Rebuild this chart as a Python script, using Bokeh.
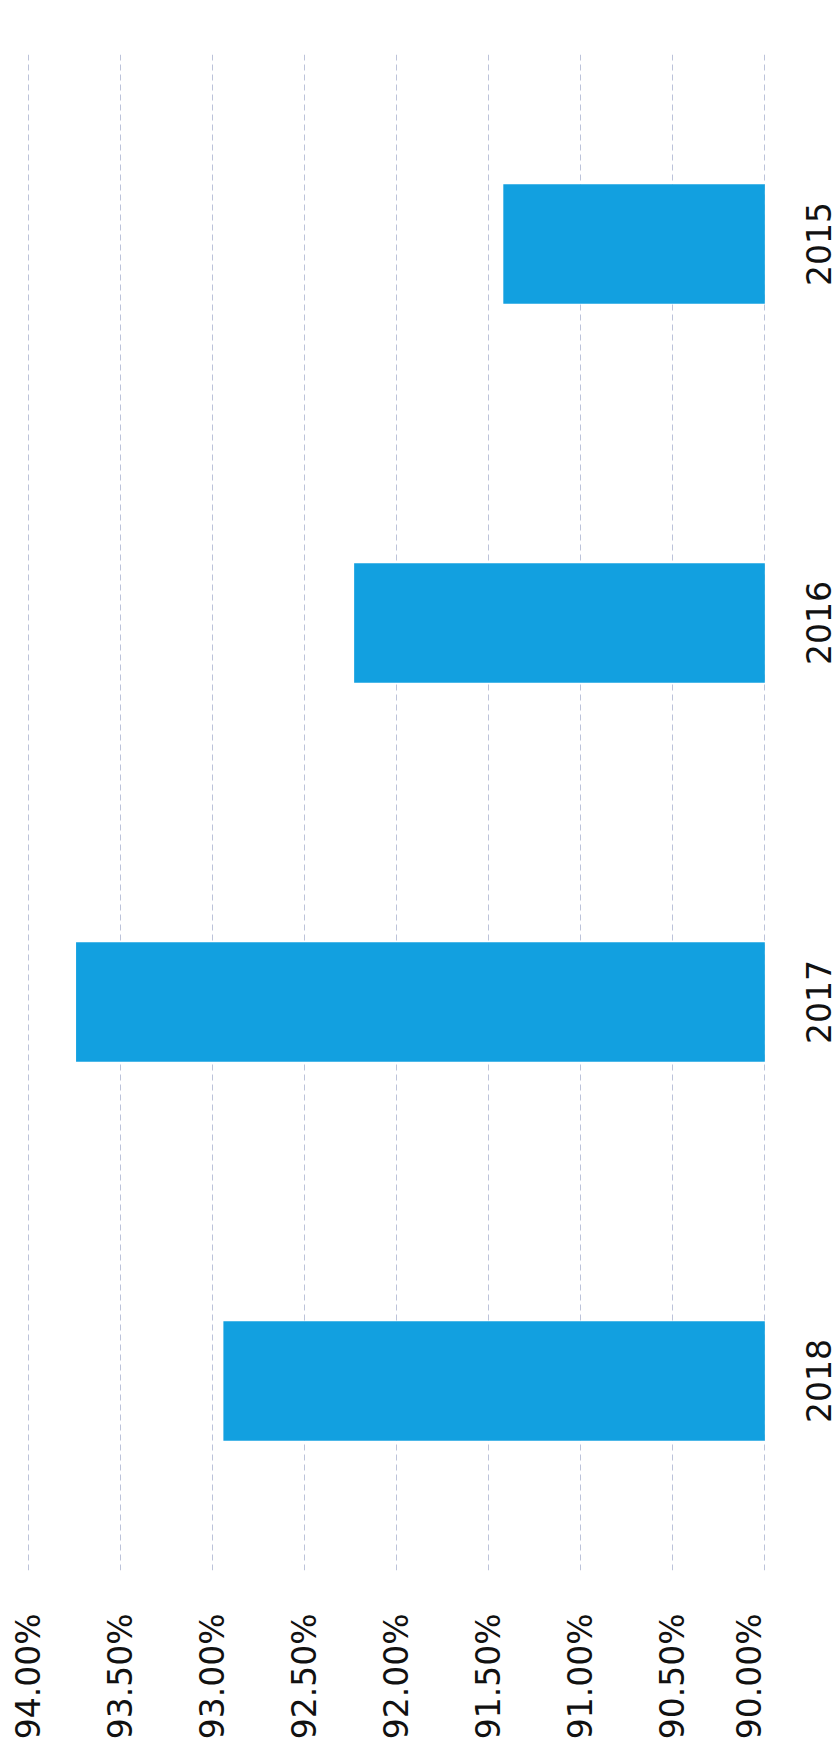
import math
from bokeh.plotting import figure
from bokeh.layouts import row
from bokeh.core.properties import value
from bokeh.models import ColumnDataSource, FactorRange, Range1d, FixedTicker, NumeralTickFormatter
from bokeh.embed import file_html
from bokeh.resources import INLINE

# Data
years = ["2018", "2017", "2016", "2015"]
rates = [0.9294, 0.9374, 0.9223, 0.9142]
ticks = [0.90, 0.905, 0.91, 0.915, 0.92, 0.925, 0.93, 0.935, 0.94]
baseline = 0.90

src = ColumnDataSource(data=dict(year=years, rate=rates))
yr = FactorRange(*years)

p = figure(
    width=768, height=1754,
    y_range=yr,
    x_range=Range1d(0.9402, 0.8998),
    output_backend="svg", toolbar_location=None,
    x_axis_location="below", y_axis_location=None,
    min_border_left=24, min_border_right=0, min_border_top=54, min_border_bottom=184,
)
p.outline_line_color = None
p.background_fill_color = "white"
p.border_fill_color = "white"

p.hbar(y="year", left=baseline, right="rate", height=0.315, source=src,
       fill_color="#12a0e0", line_color=None)

# value axis at the bottom, labels reading bottom-to-top
xa = p.xaxis[0]
xa.ticker = FixedTicker(ticks=ticks)
xa.formatter = NumeralTickFormatter(format="0.00%")
xa.major_label_orientation = math.pi / 2
xa.axis_line_color = None
xa.major_tick_line_color = None
xa.minor_tick_line_color = None
xa.major_label_text_font = "DejaVu Sans"
xa.major_label_text_font_size = "33px"
xa.major_label_text_color = "#111111"
xa.major_label_standoff = 37

p.ygrid.grid_line_color = None
p.xgrid.grid_line_color = "#bcc3da"
p.xgrid.grid_line_width = 1
p.xgrid.grid_line_dash = "6 4"
p.xgrid.ticker = FixedTicker(ticks=ticks)

# category labels on the right, reading bottom-to-top, centred on each bar
q = figure(
    width=72, height=1754,
    y_range=yr, x_range=Range1d(-1, 1),
    output_backend="svg", toolbar_location=None,
    x_axis_location=None, y_axis_location=None,
    min_border_left=28, min_border_right=0, min_border_top=54, min_border_bottom=184,
)
q.outline_line_color = None
q.grid.grid_line_color = None
q.background_fill_color = "white"
q.border_fill_color = "white"
q.text(x=0, y="year", text="year", source=src, angle=math.pi / 2,
       text_align="center", text_baseline="middle",
       text_font=value("DejaVu Sans"), text_font_size="33px", text_color="#111111")

layout = row(p, q, spacing=0)
open("out.html", "w").write(file_html(layout, INLINE))
